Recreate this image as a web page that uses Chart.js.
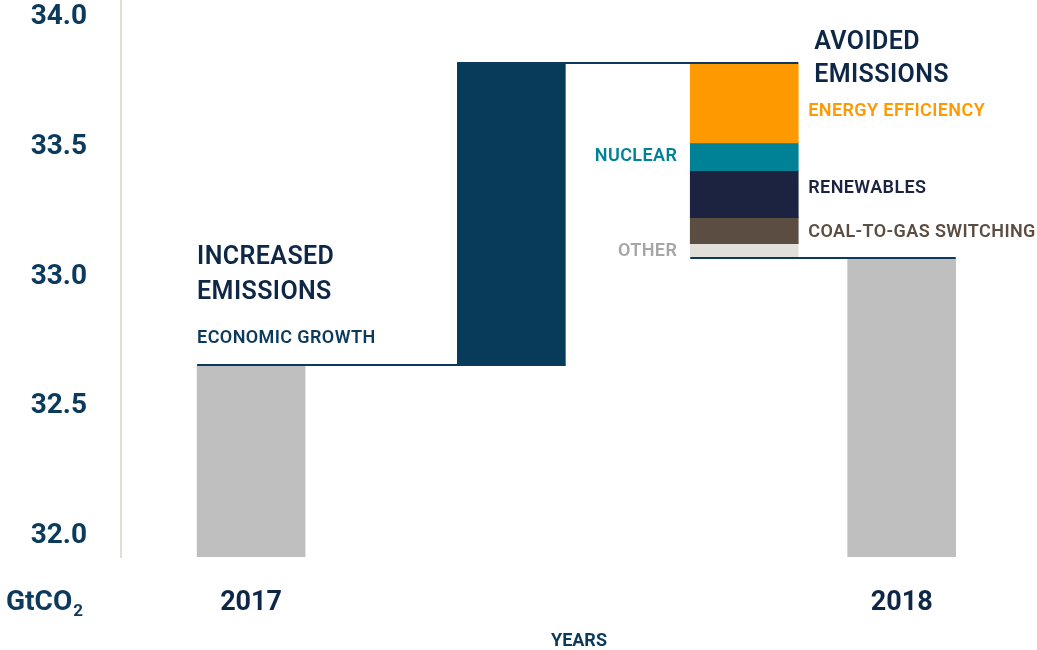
<!doctype html>
<html>
<head>
  <meta charset="utf-8" />
  <title>CO2 emissions 2017-2018</title>
  <script src="https://cdn.jsdelivr.net/npm/chart.js"></script>
  <style>
    html, body { margin: 0; padding: 0; background: #ffffff; }
    #wrap { width: 1037px; height: 650px; position: relative; }
  </style>
</head>
<body>
  <div id="wrap"><canvas id="chart"></canvas></div>

<script>
  // values in GtCO2
  var years = ['2017', '2018'];
  var yearTotals = [32.658, 33.073];
  var growthLabel = 'ECONOMIC GROWTH';
  var growthValue = 1.165;
  var avoidedLabels = ['ENERGY EFFICIENCY', 'NUCLEAR', 'RENEWABLES', 'COAL-TO-GAS SWITCHING', 'OTHER'];
  var avoidedValues = [0.308, 0.107, 0.181, 0.100, 0.054];
  var yTicks = [32.0, 32.5, 33.0, 33.5, 34.0];

  // column slots on the x scale: 2017, growth, avoided, 2018
  var slots = [0, 1, 1.895, 2.5];

  var avoidedColors = ['#ff9900', '#008296', '#1b2340', '#5c4d42', '#e0dfda'];
  var avoidedSide = ['right', 'left', 'right', 'right', 'left'];
  var avoidedNudge = [9, 0, -6, 2, 1];
  var navy = '#0f2747';
  var blue = '#0b3a5c';
  var FONT = 'Roboto, "DejaVu Sans", sans-serif';

  var peak = yearTotals[0] + growthValue;

  var datasets = [
    {
      label: 'Total',
      data: [{x: slots[0], y: yearTotals[0]}, {x: slots[3], y: yearTotals[1]}],
      backgroundColor: '#bfbfbf'
    },
    {
      label: growthLabel,
      data: [{x: slots[1], y: [yearTotals[0], peak]}],
      backgroundColor: '#083a5a'
    }
  ];
  var level = peak;
  avoidedLabels.forEach(function (lab, i) {
    datasets.push({
      label: lab,
      data: [{x: slots[2], y: [level - avoidedValues[i], level]}],
      backgroundColor: avoidedColors[i]
    });
    level -= avoidedValues[i];
  });
  datasets.forEach(function (ds) {
    ds.grouped = false;
    ds.barThickness = 108;
    ds.borderWidth = 0;
  });

  var annotations = {
    id: 'annotations',
    afterDatasetsDraw: function (chart) {
      var ctx = chart.ctx;
      var xs = chart.scales.x, ys = chart.scales.y;
      var half = 54;
      ctx.save();

      // connector lines
      ctx.strokeStyle = blue;
      ctx.lineWidth = 2;
      function hline(v, x0, x1) {
        var y = Math.round(ys.getPixelForValue(v));
        ctx.beginPath();
        ctx.moveTo(x0, y);
        ctx.lineTo(x1, y);
        ctx.stroke();
      }
      hline(yearTotals[0], xs.getPixelForValue(slots[0]) - half, xs.getPixelForValue(slots[1]) + half);
      hline(peak, xs.getPixelForValue(slots[1]) - half, xs.getPixelForValue(slots[2]) + half);
      hline(yearTotals[1], xs.getPixelForValue(slots[2]) - half, xs.getPixelForValue(slots[3]) + half);

      ctx.textBaseline = 'middle';
      ctx.letterSpacing = '0.4px';

      // increased emissions
      var gx = xs.getPixelForValue(slots[0]) - half;
      var gy = ys.getPixelForValue(yearTotals[0]);
      ctx.textAlign = 'left';
      ctx.fillStyle = navy;
      ctx.font = '600 25px ' + FONT;
      ctx.fillText('INCREASED', gx, gy - 108);
      ctx.fillText('EMISSIONS', gx, gy - 73);
      ctx.fillStyle = blue;
      ctx.font = '600 18px ' + FONT;
      ctx.fillText(growthLabel, gx, gy - 27);

      // avoided emissions
      var ax = xs.getPixelForValue(slots[2]);
      var ay = ys.getPixelForValue(peak);
      ctx.fillStyle = navy;
      ctx.font = '600 25px ' + FONT;
      ctx.fillText('AVOIDED', ax + half + 16, ay - 20);
      ctx.fillText('EMISSIONS', ax + half + 16, ay + 13);

      var lv = peak;
      ctx.font = '600 18px ' + FONT;
      avoidedLabels.forEach(function (lab, i) {
        var yc = (ys.getPixelForValue(lv) + ys.getPixelForValue(lv - avoidedValues[i])) / 2 + avoidedNudge[i];
        lv -= avoidedValues[i];
        ctx.fillStyle = i === 4 ? '#a6a6a6' : avoidedColors[i];
        if (avoidedSide[i] === 'left') {
          ctx.textAlign = 'right';
          ctx.fillText(lab, ax - half - 13, yc);
        } else {
          ctx.textAlign = 'left';
          ctx.fillText(lab, ax + half + 10, yc);
        }
      });

      // unit label
      ctx.letterSpacing = '0px';
      ctx.textAlign = 'left';
      ctx.fillStyle = blue;
      ctx.font = 'bold 28px ' + FONT;
      ctx.fillText('GtCO', 6, 603);
      var w = ctx.measureText('GtCO').width;
      ctx.font = 'bold 17px ' + FONT;
      ctx.fillText('2', 6 + w + 1, 612);
      ctx.restore();
    }
  };

  new Chart(document.getElementById('chart'), {
    type: 'bar',
    data: {datasets: datasets},
    options: {
      responsive: true,
      maintainAspectRatio: false,
      animation: false,
      layout: {padding: 0},
      plugins: {legend: {display: false}, tooltip: {enabled: false}},
      scales: {
        x: {
          type: 'linear',
          min: -0.5,
          max: 3.02,
          offset: false,
          grid: {display: false, drawTicks: false},
          border: {display: false},
          afterFit: function (s) { s.height = 93; s.paddingLeft = 0; s.paddingRight = 0; },
          afterBuildTicks: function (s) { s.ticks = [{value: slots[0]}, {value: slots[3]}]; },
          ticks: {
            padding: 30,
            color: navy,
            font: {family: FONT, size: 27, weight: 'bold'},
            callback: function (v) { return v === slots[0] ? years[0] : years[1]; }
          },
          title: {
            display: true,
            text: 'YEARS',
            color: blue,
            padding: 0,
            font: {family: FONT, size: 18, weight: 'bold', lineHeight: 1}
          }
        },
        y: {
          min: 31.92,
          max: 34.065,
          grid: {display: false, drawTicks: false},
          border: {display: true, color: '#e0e0da', width: 2},
          afterFit: function (s) { s.width = 121; s.paddingTop = 0; s.paddingBottom = 0; },
          afterBuildTicks: function (s) { s.ticks = yTicks.map(function (v) { return {value: v}; }); },
          ticks: {
            padding: 34,
            color: blue,
            font: {family: FONT, size: 28, weight: 'bold'},
            callback: function (v) { return v.toFixed(1); }
          }
        }
      }
    },
    plugins: [annotations]
  });
</script>
</body>
</html>
